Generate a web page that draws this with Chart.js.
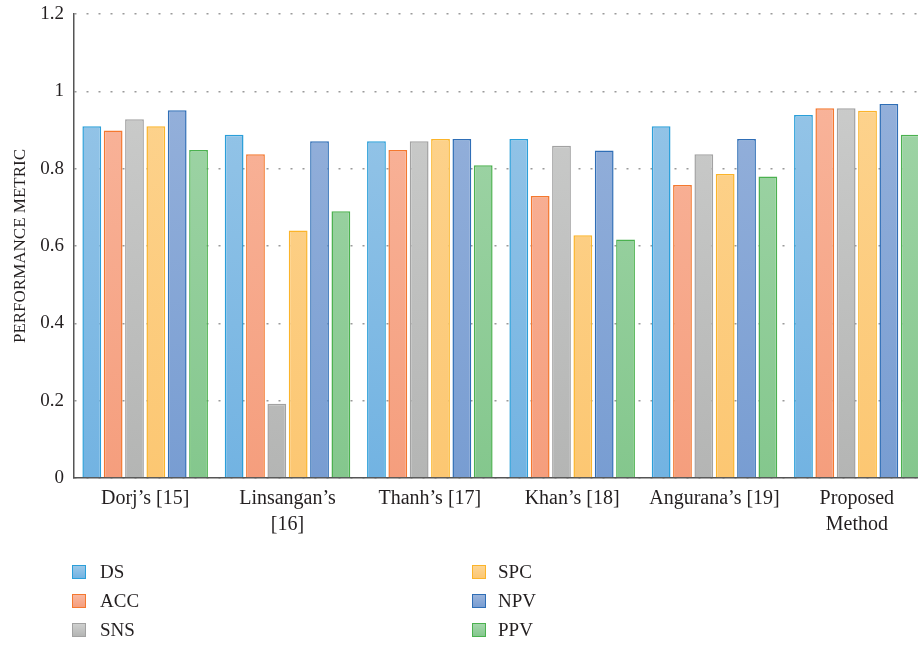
<!DOCTYPE html>
<html><head><meta charset="utf-8">
<script src="https://cdn.jsdelivr.net/npm/chart.js@4/dist/chart.umd.min.js"></script>
<style>
html,body{margin:0;padding:0;background:#fff;overflow:hidden}
#wrap{position:relative;width:918px;height:646px;overflow:hidden;background:#fff}
#c{position:absolute;left:0;top:0}
.item{position:absolute;font-family:"Liberation Serif",serif;font-size:19px;color:#231f20;white-space:nowrap;line-height:20px;height:20px}
.box{position:absolute;width:12px;height:12px;border:1.5px solid}
</style></head>
<body>
<div id="wrap">
<canvas id="c" width="928" height="646"></canvas>
<div id="legend"></div>
</div>
<script>
// ---- data ----
const categories = [["Dorj’s [15]"], ["Linsangan’s", "[16]"], ["Thanh’s [17]"], ["Khan’s [18]"], ["Angurana’s [19]"], ["Proposed", "Method"]];
const seriesNames = ["DS", "ACC", "SNS", "SPC", "NPV", "PPV"];
const DS  = [0.910, 0.888, 0.871, 0.877, 0.910, 0.939];
const ACC = [0.899, 0.837, 0.848, 0.729, 0.758, 0.956];
const SNS = [0.928, 0.192, 0.871, 0.859, 0.837, 0.956];
const SPC = [0.910, 0.640, 0.877, 0.628, 0.786, 0.950];
const NPV = [0.951, 0.871, 0.877, 0.847, 0.877, 0.967];
const PPV = [0.848, 0.690, 0.809, 0.617, 0.780, 0.888];
const yTicks = [0, 0.2, 0.4, 0.6, 0.8, 1, 1.2];

// ---- styles ----
const FONT = '"Liberation Serif", "Times New Roman", serif';
const TEXT = '#231f20';
const styles = [
  {top:'#9cc8e8', bot:'#72b3e2', border:'#2b9fd9'},
  {top:'#f9b8a0', bot:'#f59e7d', border:'#f4782f'},
  {top:'#cfd0cf', bot:'#b4b5b4', border:'#a2a2a2'},
  {top:'#fdd593', bot:'#fcc772', border:'#fbb42a'},
  {top:'#9ab4dc', bot:'#789dd2', border:'#2f6eb6'},
  {top:'#a5d7ac', bot:'#84c78d', border:'#4bb14f'}
];
const allSeries = [DS, ACC, SNS, SPC, NPV, PPV];

function grad(top, bot){
  return function(ctx){
    const ch = ctx.chart, a = ch.chartArea;
    if(!a) return top;
    const g = ch.ctx.createLinearGradient(0, a.top, 0, a.bottom);
    g.addColorStop(0, top); g.addColorStop(1, bot);
    return g;
  };
}

const datasets = seriesNames.map((n,i)=>({
  label:n,
  data:allSeries[i],
  backgroundColor:grad(styles[i].top, styles[i].bot),
  borderColor:styles[i].border,
  borderWidth:1.5,
  categoryPercentage:0.9,
  barPercentage:0.88
}));

new Chart(document.getElementById('c'), {
  type:'bar',
  data:{labels:categories, datasets},
  options:{
    responsive:false,
    devicePixelRatio:1,
    animation:false,
    layout:{padding:{top:14,left:0,right:0,bottom:0}},
    plugins:{legend:{display:false}, tooltip:{enabled:false}},
    scales:{
      x:{
        grid:{display:false, drawTicks:false},
        border:{display:true, color:'#555', width:1.5},
        ticks:{font:{family:FONT, size:20, lineHeight:1.3}, color:TEXT, padding:8, maxRotation:0, autoSkip:false},
        afterFit:s=>{ s.height = 168; s.paddingLeft = 0; s.paddingRight = 0; }
      },
      y:{
        min:0, max:1.2,
        afterBuildTicks:s=>{ s.ticks = yTicks.map(v=>({value:v})); },
        ticks:{font:{family:FONT, size:19}, color:TEXT, padding:10, callback:v=>String(+(+v).toFixed(1))},
        grid:{color:'#9a9a9a', lineWidth:1.5, drawTicks:false},
        border:{display:true, color:'#555', width:1.5, dash:[2,10]},
        title:{display:true, text:'PERFORMANCE METRIC', font:{family:FONT, size:17}, color:TEXT, padding:{top:10,bottom:0}},
        afterFit:s=>{ s.width = 74; s.paddingTop = 0; s.paddingBottom = 0; }
      }
    }
  }
});

// ---- legend ----
const lg = document.getElementById('legend');
seriesNames.forEach((n,i)=>{
  const col = i<3?0:1, row = i%3;
  const b = document.createElement('div');
  b.className='box';
  b.style.left = (col?472:72)+'px';
  b.style.top = (565+row*29)+'px';
  b.style.borderColor = styles[i].border;
  b.style.background = 'linear-gradient('+styles[i].top+','+styles[i].bot+')';
  lg.appendChild(b);
  const t = document.createElement('div');
  t.className='item';
  t.textContent = n;
  t.style.left = (col?498:100)+'px';
  t.style.top = (562+row*29)+'px';
  lg.appendChild(t);
});
</script>
</body></html>
